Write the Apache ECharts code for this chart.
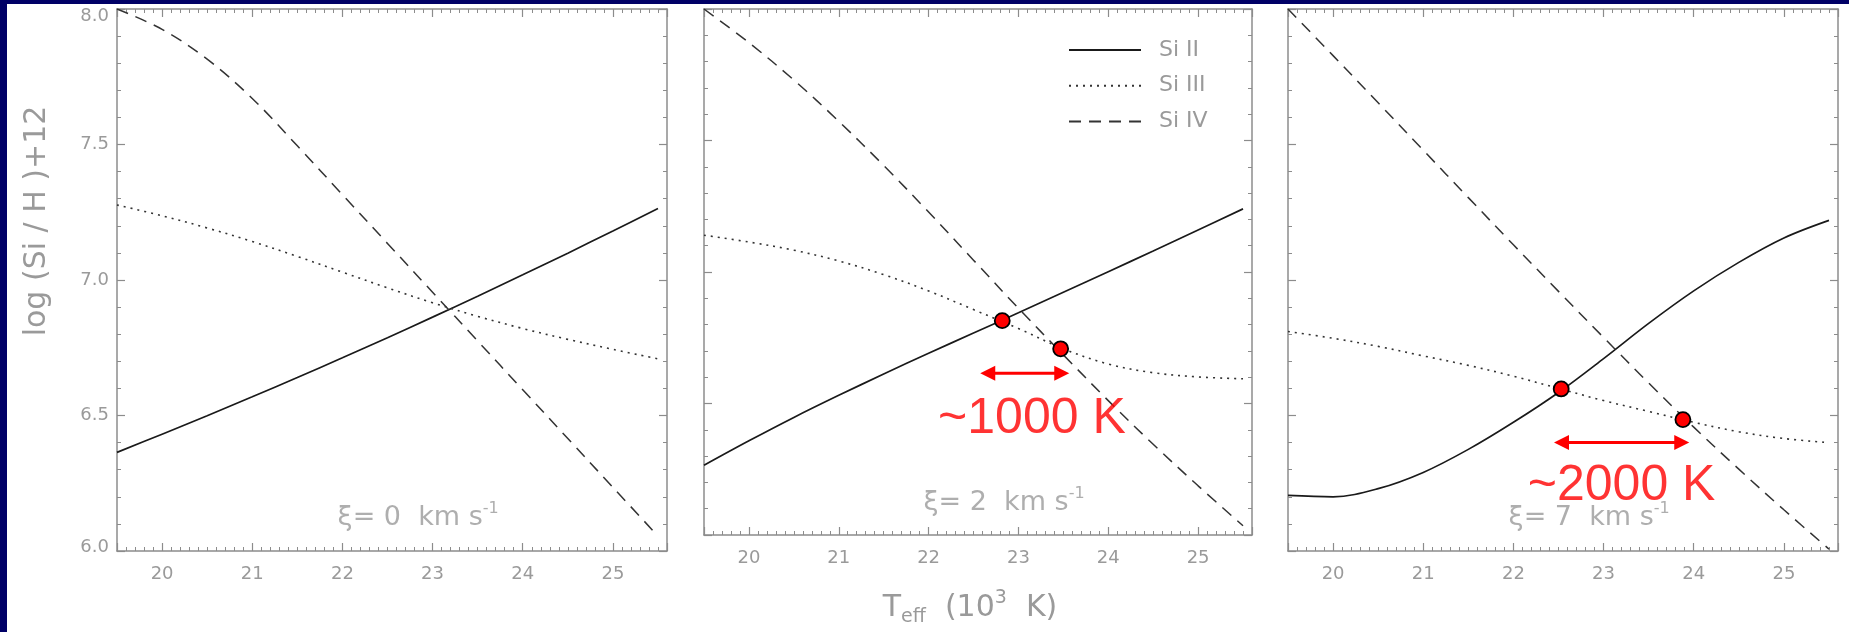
<!DOCTYPE html>
<html>
<head>
<meta charset="utf-8">
<script src="https://cdn.jsdelivr.net/npm/echarts@6/dist/echarts.min.js"></script>
<style>
  html, body { margin: 0; padding: 0; background: #ffffff; }
  #chart { width: 1849px; height: 632px; }
</style>
</head>
<body>
<div id="chart"></div>
<script>
// Effective temperature grid (10^3 K)
const temps = [19.5, 20.0, 20.5, 21.0, 21.5, 22.0, 22.5, 23.0, 23.5, 24.0, 24.5, 25.0, 25.5];

// log(Si/H)+12 derived from each ion, microturbulence xi = 0 km/s
const siII_xi0  = [6.364, 6.431, 6.499, 6.569, 6.640, 6.713, 6.787, 6.863, 6.940, 7.019, 7.099, 7.181, 7.264];
const siIII_xi0 = [7.277, 7.237, 7.192, 7.142, 7.087, 7.029, 6.971, 6.916, 6.866, 6.821, 6.781, 6.744, 6.709];
const siIV_xi0  = [8.000, 7.925, 7.815, 7.670, 7.495, 7.315, 7.135, 6.955, 6.775, 6.595, 6.415, 6.235, 6.055];

// xi = 2 km/s
const siII_xi2  = [6.265, 6.358, 6.447, 6.531, 6.612, 6.691, 6.768, 6.845, 6.923, 7.001, 7.080, 7.160, 7.240];
const siIII_xi2 = [7.140, 7.114, 7.083, 7.042, 6.990, 6.928, 6.857, 6.785, 6.708, 6.650, 6.617, 6.601, 6.594];
const siIV_xi2  = [8.000, 7.872, 7.730, 7.573, 7.405, 7.228, 7.045, 6.862, 6.685, 6.511, 6.345, 6.187, 6.035];

// xi = 7 km/s
const siII_xi7  = [6.205, 6.200, 6.230, 6.290, 6.375, 6.475, 6.585, 6.710, 6.840, 6.960, 7.065, 7.155, 7.220];
const siIII_xi7 = [6.810, 6.785, 6.755, 6.720, 6.685, 6.645, 6.600, 6.555, 6.515, 6.475, 6.440, 6.415, 6.400];
const siIV_xi7  = [8.000, 7.828, 7.654, 7.479, 7.304, 7.130, 6.958, 6.788, 6.620, 6.457, 6.302, 6.152, 6.007];

// Ionisation-balance crossing points (Teff, log eps)
const cross_xi2 = [[22.82, 6.815], [23.47, 6.708]];
const cross_xi7 = [[22.53, 6.598], [23.88, 6.485]];

// Temperature spread arrows: [Teff start, Teff end, log eps]
const spread_xi2 = [22.575, 23.566, 6.615];
const spread_xi7 = [22.45, 23.95, 6.40];
const spreadText_xi2 = { text: '~1000 K', at: [23.15, 6.44] };
const spreadText_xi7 = { text: '~2000 K', at: [23.2, 6.24] };

const xiValues = ['0', '2', '7'];
const xiLabelPos = [22.84, 6.12];

const yTicks = [6.0, 6.5, 7.0, 7.5, 8.0];

const ionNames = ['Si II', 'Si III', 'Si IV'];
const panels = [
  [siII_xi0, siIII_xi0, siIV_xi0],
  [siII_xi2, siIII_xi2, siIV_xi2],
  [siII_xi7, siIII_xi7, siIV_xi7]
];

const AXIS_GRAY = '#8c8c8c';
const TEXT_GRAY = '#9a9a9a';
const LABEL_FONT = '"DejaVu Sans", "Open Sans", sans-serif';

const gridBoxes = [
  { left: 117,  top: 9, width: 550, height: 542 },
  { left: 704,  top: 9, width: 548, height: 542 },
  { left: 1288, top: 9, width: 550, height: 542 }
];

const lineStyles = [
  { color: '#1a1a1a', width: 1.7, type: 'solid' },
  { color: '#333333', width: 1.6, type: [2, 5] },
  { color: '#333333', width: 1.5, type: [12, 8] }
];

const tickLabelStyle = { color: TEXT_GRAY, fontSize: 18, fontFamily: LABEL_FONT };

const xAxes = [], yAxes = [], series = [];

gridBoxes.forEach((g, i) => {
  const commonX = {
    type: 'value', gridIndex: i, min: 19.5, max: 25.6, splitNumber: 6,
    axisLine: { show: true, onZero: false, lineStyle: { color: AXIS_GRAY, width: 1.5 } },
    axisTick: { show: true, inside: true, length: 8, lineStyle: { color: AXIS_GRAY, width: 1.2 } },
    minorTick: { show: true, splitNumber: 10, length: 4, lineStyle: { color: AXIS_GRAY, width: 1 } },
    splitLine: { show: false }
  };
  xAxes.push(Object.assign({}, commonX, {
    position: 'bottom',
    axisLabel: Object.assign({
      show: true, margin: 14,
      showMinLabel: false, showMaxLabel: false,
      formatter: v => String(Math.round(v))
    }, tickLabelStyle),
    name: i === 1 ? '{t|T}{sub|eff}{t|  (10}{sup|3}{t|  K)}' : '',
    nameLocation: 'middle', nameGap: 54,
    nameTextStyle: {
      padding: [0, 16, 0, 0],
      rich: {
        t:   { fontSize: 30, color: TEXT_GRAY, fontFamily: LABEL_FONT, lineHeight: 38 },
        sub: { fontSize: 19, color: TEXT_GRAY, fontFamily: LABEL_FONT, verticalAlign: 'bottom', lineHeight: 38 },
        sup: { fontSize: 19, color: TEXT_GRAY, fontFamily: LABEL_FONT, verticalAlign: 'top', lineHeight: 38 }
      }
    }
  }));
  xAxes.push(Object.assign({}, commonX, { position: 'top', axisLabel: { show: false } }));

  const commonY = {
    type: 'value', gridIndex: i, min: 6, max: 8, interval: 0.5,
    axisLine: { show: true, onZero: false, lineStyle: { color: AXIS_GRAY, width: 1.5 } },
    axisTick: { show: true, inside: true, length: 8, lineStyle: { color: AXIS_GRAY, width: 1.2 } },
    minorTick: { show: true, splitNumber: 5, length: 4, lineStyle: { color: AXIS_GRAY, width: 1 } },
    splitLine: { show: false }
  };
  yAxes.push(Object.assign({}, commonY, {
    position: 'left',
    axisLabel: Object.assign({
      show: i === 0, margin: 8,
      // end labels sit slightly inside the frame
      formatter: v => {
        if (yTicks.indexOf(v) < 0) return '';
        const s = v.toFixed(1);
        if (v === 8) return '{top|' + s + '}';
        if (v === 6) return '{bot|' + s + '}';
        return s;
      },
      rich: {
        top: Object.assign({ padding: [14, 0, 0, 0] }, tickLabelStyle),
        bot: Object.assign({ padding: [0, 0, 8, 0] }, tickLabelStyle)
      }
    }, tickLabelStyle)
  }));
  yAxes.push(Object.assign({}, commonY, { position: 'right', axisLabel: { show: false } }));

  panels[i].forEach((vals, k) => {
    series.push({
      type: 'line', name: ionNames[k], xAxisIndex: 2 * i, yAxisIndex: 2 * i,
      data: temps.map((t, j) => [t, vals[j]]),
      smooth: 0.35, showSymbol: false, symbol: 'none',
      lineStyle: lineStyles[k], silent: true, z: 3
    });
  });

  // microturbulence annotation
  series.push({
    type: 'scatter', xAxisIndex: 2 * i, yAxisIndex: 2 * i, symbolSize: 0, silent: true, z: 4,
    data: [xiLabelPos],
    label: {
      show: true, position: 'inside',
      formatter: '{m|\u03be= ' + xiValues[i] + '  km s}{s|-1}',
      rich: {
        m: { fontSize: 27, color: TEXT_GRAY, fontFamily: LABEL_FONT, lineHeight: 36 },
        s: { fontSize: 16, color: TEXT_GRAY, fontFamily: LABEL_FONT, verticalAlign: 'top', lineHeight: 36 }
      }
    }
  });
});

// double-headed arrow between two temperatures at a fixed abundance
function renderSpreadArrow(params, api) {
  const p0 = api.coord([api.value(0), api.value(2)]);
  const p1 = api.coord([api.value(1), api.value(2)]);
  const hl = 15, hw = 7.5;
  const red = '#ff0000';
  return {
    type: 'group',
    children: [
      { type: 'line', shape: { x1: p0[0] + hl - 1, y1: p0[1], x2: p1[0] - hl + 1, y2: p1[1] },
        style: { stroke: red, lineWidth: 3 } },
      { type: 'polygon', shape: { points: [[p0[0], p0[1]], [p0[0] + hl, p0[1] - hw], [p0[0] + hl, p0[1] + hw]] },
        style: { fill: red } },
      { type: 'polygon', shape: { points: [[p1[0], p1[1]], [p1[0] - hl, p1[1] - hw], [p1[0] - hl, p1[1] + hw]] },
        style: { fill: red } }
    ]
  };
}

// crossing points, spread arrows and spread text for xi = 2 and xi = 7
[[1, cross_xi2, spread_xi2, spreadText_xi2], [2, cross_xi7, spread_xi7, spreadText_xi7]].forEach(([i, pts, spr, txt]) => {
  series.push({
    type: 'custom', xAxisIndex: 2 * i, yAxisIndex: 2 * i, z: 7, silent: true,
    encode: { x: [0, 1], y: 2 },
    data: [spr],
    renderItem: renderSpreadArrow
  });
  series.push({
    type: 'scatter', xAxisIndex: 2 * i, yAxisIndex: 2 * i, z: 8, silent: true,
    data: pts, symbol: 'circle', symbolSize: 15,
    itemStyle: { color: '#ff0000', borderColor: '#000000', borderWidth: 1.8, opacity: 1 }
  });
  series.push({
    type: 'scatter', xAxisIndex: 2 * i, yAxisIndex: 2 * i, symbolSize: 0, silent: true, z: 9,
    data: [txt.at],
    label: {
      show: true, position: 'inside', formatter: txt.text,
      color: '#ff0000', fontSize: 50, fontFamily: '"Liberation Sans", Arial, sans-serif'
    }
  });
});

const chart = echarts.init(document.getElementById('chart'), null, { renderer: 'canvas' });
chart.setOption({
  backgroundColor: '#ffffff',
  animation: false,
  grid: gridBoxes.map(g => Object.assign({ show: false, containLabel: false }, g)),
  xAxis: xAxes,
  yAxis: yAxes,
  legend: {
    data: ionNames, orient: 'vertical', left: 1063, top: 34,
    itemWidth: 72, itemHeight: 14, itemGap: 13.7,
    selectedMode: false,
    itemStyle: { opacity: 0 },
    textStyle: { color: TEXT_GRAY, fontSize: 22, fontFamily: LABEL_FONT, padding: [0, 0, 0, 13] }
  },
  graphic: [
    { type: 'rect', left: 0, top: 0, shape: { width: 7, height: 632 }, style: { fill: '#000066' }, z: 100 },
    { type: 'rect', left: 0, top: 0, shape: { width: 1849, height: 4 }, style: { fill: '#000066' }, z: 100 },
    {
      type: 'text', x: 37, y: 221, rotation: Math.PI / 2, z: 10,
      style: {
        text: 'log (Si / H )+12', fill: TEXT_GRAY, fontSize: 30,
        fontFamily: LABEL_FONT, align: 'center', verticalAlign: 'middle'
      }
    }
  ],
  series: series
});
</script>
</body>
</html>
